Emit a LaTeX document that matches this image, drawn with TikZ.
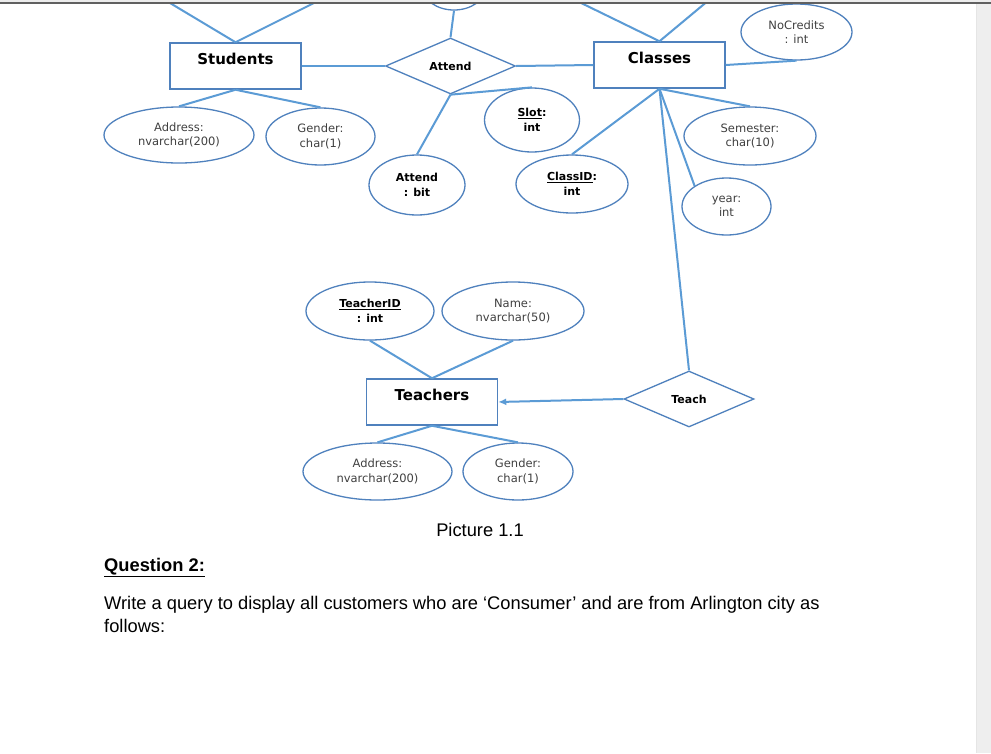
\documentclass[tikz,border=0pt]{standalone}
\usepackage{fontspec}
\setmainfont{DejaVu Sans}
\newfontfamily\qfont{Liberation Sans}
\usetikzlibrary{shapes.geometric,arrows.meta}
\definecolor{conn}{HTML}{5B9BD5}
\definecolor{bord}{HTML}{4F81BD}
\definecolor{attrtxt}{HTML}{404040}
\definecolor{panel}{HTML}{EEEEEE}
\begin{document}
\begin{tikzpicture}[x=1pt,y=-1pt,
  cline/.style={draw=conn,line width=2pt},
  ent/.style={draw=bord,line width=1.5pt,minimum width=131pt,minimum height=46pt,inner sep=0pt},
  enttxt/.style={font=\fontsize{15}{18}\selectfont\bfseries,inner sep=0pt},
  rel/.style={diamond,draw=bord,line width=1.3pt,aspect=2.3,minimum width=130pt,minimum height=56pt,inner sep=0pt,font=\fontsize{11}{14}\selectfont\bfseries},
  attr/.style={ellipse,draw=bord,line width=1.3pt,inner sep=0pt,align=center,font=\fontsize{11.5}{14.5}\selectfont,text=attrtxt},
  battr/.style={attr,font=\fontsize{11}{15}\selectfont\bfseries,text=black},
  qtext/.style={anchor=base west,inner sep=0pt,font=\qfont\fontsize{18.3}{22}\selectfont}
]
\clip (0,0) rectangle (991,753);
\fill[white] (0,0) rectangle (991,753);
\fill[panel] (976,0) rectangle (991,753);
\draw[gray!20,line width=0.8pt] (976,0) -- (976,753);

% entities
\node[ent] (stu) at (235.5,66) {};
\node[enttxt] (stut) at (235.5,59) {Students};
\node[ent] (cls) at (659.5,65) {};
\node[enttxt] (clst) at (659.5,58) {Classes};
\node[ent] (tch) at (432,402) {};
\node[enttxt] (tcht) at (432,395) {Teachers};

% relationships
\node[rel] (att) at (450.5,66) {Attend};
\node[rel] (teach) at (689,399) {Teach};

% attributes
\node[attr,minimum width=150pt,minimum height=56pt] (saddr) at (179,135) {Address:\\nvarchar(200)};
\node[attr,minimum width=109pt,minimum height=57pt] (sgen) at (320.5,136.5) {Gender:\\char(1)};
\node[battr,minimum width=96pt,minimum height=60pt] (abit) at (417,185) {Attend\\: bit};
\node[battr,minimum width=95pt,minimum height=64pt] (slot) at (532,120) {\underline{Slot}:\\int};
\node[battr,minimum width=112pt,minimum height=58pt] (cid) at (572,184) {\underline{ClassID}:\\int};
\node[attr,minimum width=111pt,minimum height=56pt] (nocr) at (796.5,32) {NoCredits\\: int};
\node[attr,minimum width=132pt,minimum height=58pt] (sem) at (750,136) {Semester:\\char(10)};
\node[attr,minimum width=89pt,minimum height=57pt] (year) at (726.5,206.5) {year:\\int};
\node[battr,minimum width=128pt,minimum height=58pt] (tid) at (370,311) {\underline{TeacherID}\\: int};
\node[attr,minimum width=142pt,minimum height=58pt] (tname) at (513,311) {Name:\\nvarchar(50)};
\node[attr,minimum width=149pt,minimum height=57pt] (taddr) at (377.5,471.5) {Address:\\nvarchar(200)};
\node[attr,minimum width=110pt,minimum height=57pt] (tgen) at (518,471.5) {Gender:\\char(1)};
\node[attr,minimum width=62pt,minimum height=44pt] (topat) at (454,-12) {};

% off-page ends
\coordinate (s1) at (165,0);
\coordinate (s2) at (320,0);
\coordinate (c1) at (575,0);
\coordinate (c2) at (709,0);

% connectors
\draw[cline] (stu.north) -- (s1);
\draw[cline] (stu.north) -- (s2);
\draw[cline] (cls.north) -- (c1);
\draw[cline] (cls.north) -- (c2);
\draw[cline] (stu.south) -- (saddr.north);
\draw[cline] (stu.south) -- (sgen.north);
\draw[cline] (stu.east) -- (att.west);
\draw[cline] (att.east) -- (cls.west);
\draw[cline] (att.north) -- (topat.south);
\draw[cline] (att.south) -- (abit.north);
\draw[cline] (att.south) -- (slot.north);
\draw[cline] (cls.east) -- (nocr.south);
\draw[cline] (cls.south) -- (sem.north);
\draw[cline] (cls.south) -- (cid.north);
\draw[cline] (cls.south) -- (year.north west);
\draw[cline] (cls.south) -- (teach.north);
\draw[cline,-{Latex[length=8pt,width=7pt]}] (teach.west) -- (tch.east);
\draw[cline] (tch.north) -- (tid.south);
\draw[cline] (tch.north) -- (tname.south);
\draw[cline] (tch.south) -- (taddr.north);
\draw[cline] (tch.south) -- (tgen.north);

% top bar
\fill[gray!15] (0,0) rectangle (991,2.2);
\draw[gray!75!black,line width=1.6pt] (0,3) -- (991,3);

% text
\node[anchor=base,inner sep=0pt,font=\qfont\fontsize{18.3}{22}\selectfont] (pic) at (480,536) {Picture 1.1};
\node[qtext,font=\qfont\fontsize{18.3}{22}\selectfont\bfseries] (q2) at (104,571) {\underline{Question 2:}};
\node[qtext] (q2a) at (104,609) {Write a query to display all customers who are ‘Consumer’ and are from Arlington city as};
\node[qtext] (q2b) at (104,632) {follows:};
\end{tikzpicture}
\end{document}
